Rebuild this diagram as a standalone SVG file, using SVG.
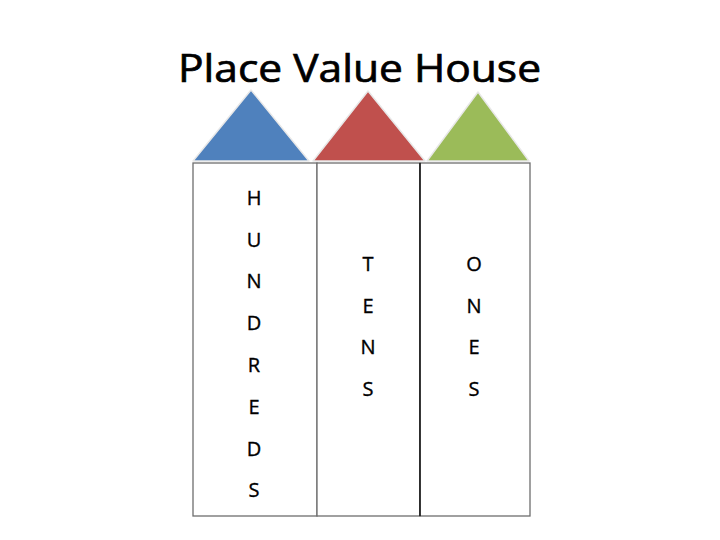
<svg xmlns="http://www.w3.org/2000/svg" width="720" height="540" viewBox="0 0 720 540">
  <style>
    .title { font-family: "Comic Sans MS", "Open Sans", "DejaVu Sans", sans-serif; font-size: 38px; fill: #000; stroke: #000; stroke-width: 0.7; }
    .lbl { font-family: "Comic Sans MS", "Open Sans", "DejaVu Sans", sans-serif; font-size: 20px; fill: #000; stroke: #000; stroke-width: 0.35; text-anchor: middle; }
    .roof { stroke: #e8e8e8; stroke-width: 1.5; stroke-linejoin: round; }
    .wall { fill: #fff; stroke: #6e6e6e; stroke-width: 1.3; }
  </style>
  <rect width="720" height="540" fill="#fff"/>
  <text class="title" x="178" y="82" textLength="363" lengthAdjust="spacingAndGlyphs">Place Value House</text>

  <g id="hundreds">
    <polygon class="roof" points="193,161 251,90 309,161" fill="#4f81bd"/>
    <rect class="wall" x="193" y="163" width="124" height="353"/>
    <text class="lbl" x="254" y="205">H</text>
    <text class="lbl" x="254" y="246.7">U</text>
    <text class="lbl" x="254" y="288.4">N</text>
    <text class="lbl" x="254" y="330">D</text>
    <text class="lbl" x="254" y="372">R</text>
    <text class="lbl" x="254" y="414">E</text>
    <text class="lbl" x="254" y="455.5">D</text>
    <text class="lbl" x="254" y="497">S</text>
  </g>

  <g id="tens">
    <polygon class="roof" points="313,161 368,91 425,161" fill="#c0504d"/>
    <rect class="wall" x="317" y="163" width="103" height="353"/>
    <text class="lbl" x="368" y="271">T</text>
    <text class="lbl" x="368" y="312.7">E</text>
    <text class="lbl" x="368" y="354.4">N</text>
    <text class="lbl" x="368" y="396">S</text>
  </g>

  <g id="ones">
    <polygon class="roof" points="427,161 478,92 529,161" fill="#9bbb59"/>
    <rect class="wall" x="420" y="163" width="110" height="353"/>
    <line x1="420" y1="163" x2="420" y2="516" stroke="#000" stroke-width="1.3"/>
    <text class="lbl" x="474" y="271">O</text>
    <text class="lbl" x="474" y="312.7">N</text>
    <text class="lbl" x="474" y="354.4">E</text>
    <text class="lbl" x="474" y="396">S</text>
  </g>

  <g id="connectors"></g>
</svg>
